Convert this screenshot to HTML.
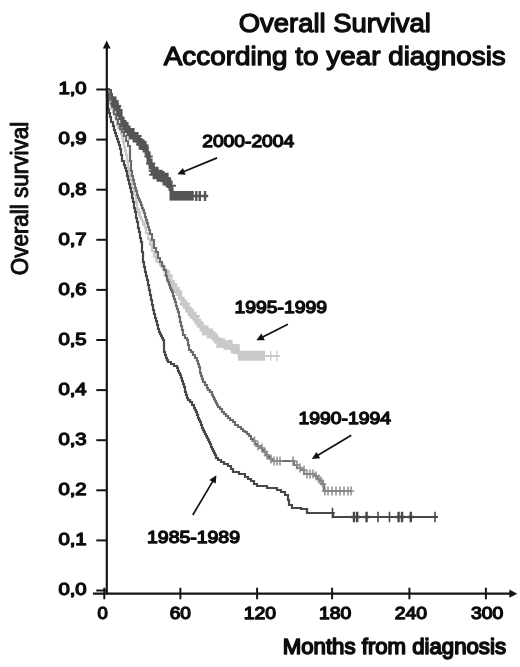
<!DOCTYPE html>
<html><head><meta charset="utf-8"><title>Overall Survival According to year diagnosis</title>
<style>html,body{margin:0;padding:0;background:#fff}svg{display:block;filter:blur(0.3px)}</style></head>
<body>
<svg width="520" height="667" viewBox="0 0 520 667">
<rect width="520" height="667" fill="#fff"/>
<g fill="none" stroke-linejoin="miter">
<path d="M107.0 89.0 L108.0 89.0 L108.0 92.0 L108.0 92.0 L109.0 92.0 L109.0 100.0 L109.0 100.0 L110.0 100.0 L110.0 103.0 L111.0 103.0 L111.0 106.0 L112.0 106.0 L112.0 109.0 L112.0 109.0 L113.0 109.0 L113.0 112.0 L114.0 112.0 L114.0 115.0 L115.0 115.0 L116.0 115.0 L116.0 120.0 L117.0 120.0 L117.0 125.0 L118.0 125.0 L118.0 125.0 L118.0 128.0 L120.0 128.0 L120.0 130.0 L121.0 130.0 L121.0 130.0 L121.0 134.0 L122.0 134.0 L122.0 138.0 L123.0 138.0 L123.0 142.0 L124.0 142.0 L124.0 142.0 L124.0 147.0 L125.0 147.0 L125.0 151.0 L126.0 151.0 L126.0 155.0 L127.0 155.0 L127.0 155.0 L127.0 161.0 L128.0 161.0 L128.0 168.0 L129.0 168.0 L129.0 168.0 L129.0 174.0 L130.0 174.0 L130.0 180.0 L131.0 180.0 L132.0 180.0 L132.0 184.0 L132.0 184.0 L132.0 188.0 L134.0 188.0 L134.0 191.0 L134.0 191.0 L134.0 195.0 L135.0 195.0 L136.0 195.0 L136.0 202.0 L137.0 202.0 L137.0 210.0 L138.0 210.0 L138.0 210.0 L138.0 212.0 L139.0 212.0 L139.0 214.0 L140.0 214.0 L140.0 217.0 L141.0 217.0 L141.0 219.0 L142.0 219.0 L142.0 221.0 L143.0 221.0 L143.0 223.0 L144.0 223.0 L144.0 225.0 L145.0 225.0 L145.0 228.0 L145.0 228.0 L146.0 228.0 L146.0 230.0 L146.0 230.0 L146.0 233.0 L148.0 233.0 L148.0 236.0 L148.0 236.0 L148.0 239.0 L150.0 239.0 L150.0 242.0 L150.0 242.0 L150.0 245.0 L151.0 245.0 L152.0 245.0 L152.0 248.0 L152.0 248.0 L152.0 251.0 L154.0 251.0 L154.0 254.0 L154.0 254.0 L154.0 257.0 L156.0 257.0 L156.0 260.0 L156.0 260.0 L157.0 260.0 L157.0 262.0 L159.0 262.0 L160.0 262.0 L160.0 265.0 L162.0 265.0 L162.0 267.0 L163.0 267.0 L163.0 270.0 L165.0 270.0 L165.0 272.0 L166.0 272.0 L167.0 272.0 L167.0 275.0 L168.0 275.0 L168.0 277.0 L169.0 277.0 L169.0 279.0 L170.0 279.0 L170.0 281.0 L171.0 281.0 L171.0 283.0 L172.0 283.0 L172.0 285.0 L172.0 285.0 L174.0 285.0 L174.0 288.0 L176.0 288.0 L176.0 291.0 L178.0 291.0 L178.0 294.0 L180.0 294.0 L180.0 298.0 L181.0 298.0 L182.0 298.0 L182.0 301.0 L185.0 301.0 L185.0 305.0 L187.0 305.0 L187.0 309.0 L189.0 309.0 L189.0 312.0 L190.0 312.0 L191.0 312.0 L191.0 315.0 L193.0 315.0 L193.0 318.0 L195.0 318.0 L195.0 320.0 L197.0 320.0 L197.0 322.0 L199.0 322.0 L199.0 325.0 L200.0 325.0 L201.0 325.0 L201.0 327.0 L204.0 327.0 L204.0 329.0 L206.0 329.0 L206.0 331.0 L209.0 331.0 L209.0 332.0 L210.0 332.0 L211.0 332.0 L211.0 334.0 L213.0 334.0 L213.0 336.0 L215.0 336.0 L215.0 338.0 L217.0 338.0 L217.0 340.0 L219.0 340.0 L219.0 342.0 L220.0 342.0 L222.0 342.0 L222.0 344.0 L228.0 344.0 L228.0 346.0 L230.0 346.0 L232.0 346.0 L232.0 348.0 L237.0 348.0 L237.0 351.0 L239.0 351.0 L239.0 351.0 L239.0 356.0 L240.0 356.0 L280.0 356.0" stroke="#c9c9c9" stroke-width="2.2"/>
<path d="M166.0 272.0 L167.0 272.0 L167.0 275.0 L168.0 275.0 L168.0 277.0 L169.0 277.0 L169.0 279.0 L170.0 279.0 L170.0 281.0 L171.0 281.0 L171.0 283.0 L172.0 283.0 L172.0 285.0 L172.0 285.0 L174.0 285.0 L174.0 289.0 L177.0 289.0 L177.0 293.0 L180.0 293.0 L180.0 298.0 L181.0 298.0 L183.0 298.0 L183.0 302.0 L186.0 302.0 L186.0 308.0 L189.0 308.0 L189.0 312.0 L190.0 312.0 L192.0 312.0 L192.0 317.0 L195.0 317.0 L195.0 321.0 L198.0 321.0 L198.0 325.0 L200.0 325.0 L202.0 325.0 L202.0 329.0 L208.0 329.0 L208.0 332.0 L210.0 332.0 L212.0 332.0 L212.0 336.0 L215.0 336.0 L215.0 339.0 L218.0 339.0 L218.0 342.0 L220.0 342.0 L225.0 342.0 L225.0 346.0 L230.0 346.0 L232.0 346.0 L232.0 348.0 L237.0 348.0 L237.0 351.0 L239.0 351.0 L239.0 351.0 L239.0 356.0 L240.0 356.0" stroke="#c9c9c9" stroke-width="3" stroke-linejoin="round"/>
<path d="M238 355.7H265" stroke="#c9c9c9" stroke-width="10"/>
<path d="M165.9 270.0h4.2v9.6h-4.2zM163.1 274.2h9.8v2.0h-9.8zM168.3 276.5h4.2v8.7h-4.2zM170.7 279.9h4.2v9.1h-4.2zM173.1 282.9h4.2v10.0h-4.2zM175.5 287.0h4.2v8.9h-4.2zM177.9 290.2h4.2v9.5h-4.2zM180.3 296.7h4.2v8.8h-4.2zM182.7 299.6h4.2v9.2h-4.2zM179.5 303.1h10.6v2.0h-10.6zM185.1 302.5h4.2v10.1h-4.2zM187.5 306.4h4.2v9.3h-4.2zM189.9 308.4h4.2v10.2h-4.2zM192.3 311.7h4.2v8.9h-4.2zM189.0 315.0h10.9v2.0h-10.9zM194.7 315.6h4.2v9.2h-4.2zM197.1 318.4h4.2v9.3h-4.2zM199.5 321.5h4.2v10.1h-4.2zM201.9 325.3h4.2v10.1h-4.2zM204.3 325.4h4.2v9.0h-4.2zM206.7 328.5h4.2v10.1h-4.2zM209.1 328.6h4.2v9.0h-4.2zM211.5 331.5h4.2v9.2h-4.2zM208.3 336.6h10.6v2.0h-10.6zM213.9 333.6h4.2v10.0h-4.2zM211.8 336.9h8.5v2.0h-8.5zM216.3 337.8h4.2v10.1h-4.2zM213.5 340.5h9.8v2.0h-9.8zM218.7 338.1h4.2v9.2h-4.2zM221.1 338.4h4.2v9.5h-4.2zM223.5 340.9h4.2v8.8h-4.2zM225.9 340.3h4.2v9.0h-4.2zM223.1 342.8h9.8v2.0h-9.8zM228.3 339.8h4.2v10.1h-4.2zM225.0 345.1h10.9v2.0h-10.9zM230.7 343.9h4.2v9.4h-4.2zM233.1 344.2h4.2v9.7h-4.2zM235.5 343.9h4.2v10.2h-4.2z" fill="#c9c9c9" stroke="none"/>
<path d="M139.0 208.0V216.0M136.0 212.0H142.0M145.0 221.0V229.0M142.0 225.0H148.0M152.0 241.0V249.0M149.0 245.0H155.0M156.0 253.0V261.0M153.0 257.0H159.0M160.0 258.0V266.0M157.0 262.0H163.0M163.0 263.0V271.0M160.0 267.0H166.0M166.0 268.0V276.0M163.0 272.0H169.0" stroke="#c9c9c9" stroke-width="1.5"/>
<path d="M270.7 351.0V361.0M267.7 356.0H273.7M277.0 351.0V361.0M274.0 356.0H280.0" stroke="#c9c9c9" stroke-width="1.3"/>
<path d="M107.0 89.0 L108.0 89.0 L108.0 91.0 L108.0 91.0 L108.0 93.0 L109.0 93.0 L110.0 93.0 L110.0 97.0 L110.0 97.0 L110.0 100.0 L112.0 100.0 L112.0 104.0 L112.0 104.0 L112.0 104.0 L112.0 107.0 L114.0 107.0 L114.0 110.0 L114.0 110.0 L114.0 114.0 L116.0 114.0 L116.0 117.0 L116.0 117.0 L116.0 117.0 L116.0 119.0 L118.0 119.0 L118.0 122.0 L118.0 122.0 L118.0 124.0 L120.0 124.0 L120.0 127.0 L120.0 127.0 L120.0 129.0 L121.0 129.0 L122.0 129.0 L122.0 132.0 L124.0 132.0 L124.0 136.0 L125.0 136.0 L126.0 136.0 L126.0 139.0 L126.0 139.0 L126.0 141.0 L128.0 141.0 L128.0 144.0 L128.0 144.0 L128.0 146.0 L130.0 146.0 L130.0 149.0 L130.0 149.0 L130.0 149.0 L130.0 161.0 L131.0 161.0 L131.0 161.0 L131.0 171.0 L132.0 171.0 L132.0 171.0 L132.0 176.0 L133.0 176.0 L133.0 180.0 L134.0 180.0 L134.0 180.0 L134.0 184.0 L135.0 184.0 L135.0 188.0 L136.0 188.0 L136.0 191.0 L137.0 191.0 L137.0 195.0 L138.0 195.0 L138.0 195.0 L138.0 198.0 L139.0 198.0 L139.0 200.0 L140.0 200.0 L140.0 202.0 L141.0 202.0 L141.0 205.0 L142.0 205.0 L142.0 208.0 L143.0 208.0 L143.0 210.0 L144.0 210.0 L144.0 210.0 L144.0 213.0 L145.0 213.0 L145.0 217.0 L146.0 217.0 L146.0 220.0 L147.0 220.0 L147.0 223.0 L148.0 223.0 L148.0 227.0 L149.0 227.0 L149.0 230.0 L150.0 230.0 L150.0 230.0 L150.0 234.0 L152.0 234.0 L152.0 237.0 L152.0 237.0 L152.0 240.0 L154.0 240.0 L154.0 244.0 L154.0 244.0 L154.0 248.0 L155.0 248.0 L156.0 248.0 L156.0 250.0 L156.0 250.0 L156.0 252.0 L158.0 252.0 L158.0 255.0 L158.0 255.0 L158.0 258.0 L160.0 258.0 L160.0 260.0 L160.0 260.0 L160.0 260.0 L160.0 262.0 L162.0 262.0 L162.0 264.0 L162.0 264.0 L162.0 266.0 L164.0 266.0 L164.0 268.0 L164.0 268.0 L164.0 270.0 L166.0 270.0 L166.0 272.0 L166.0 272.0 L166.0 272.0 L166.0 276.0 L167.0 276.0 L167.0 280.0 L168.0 280.0 L168.0 280.0 L168.0 282.0 L169.0 282.0 L169.0 285.0 L170.0 285.0 L170.0 288.0 L171.0 288.0 L171.0 290.0 L172.0 290.0 L172.0 292.0 L172.0 292.0 L173.0 292.0 L173.0 296.0 L174.0 296.0 L174.0 299.0 L175.0 299.0 L175.0 302.0 L176.0 302.0 L176.0 306.0 L177.0 306.0 L177.0 309.0 L178.0 309.0 L178.0 312.0 L179.0 312.0 L179.0 312.0 L179.0 317.0 L180.0 317.0 L180.0 322.0 L181.0 322.0 L181.0 326.0 L182.0 326.0 L182.0 330.0 L183.0 330.0 L183.0 335.0 L184.0 335.0 L185.0 335.0 L185.0 338.0 L187.0 338.0 L187.0 340.0 L188.0 340.0 L188.0 340.0 L188.0 345.0 L189.0 345.0 L189.0 350.0 L190.0 350.0 L191.0 350.0 L191.0 352.0 L193.0 352.0 L193.0 355.0 L195.0 355.0 L195.0 358.0 L196.0 358.0 L197.0 358.0 L197.0 361.0 L198.0 361.0 L198.0 364.0 L199.0 364.0 L199.0 367.0 L200.0 367.0 L200.0 370.0 L200.0 370.0 L200.0 370.0 L200.0 373.0 L201.0 373.0 L201.0 376.0 L202.0 376.0 L202.0 379.0 L203.0 379.0 L203.0 382.0 L204.0 382.0 L205.0 382.0 L205.0 385.0 L207.0 385.0 L207.0 388.0 L208.0 388.0 L208.0 390.0 L210.0 390.0 L210.0 392.0 L211.0 392.0 L212.0 392.0 L212.0 395.0 L213.0 395.0 L213.0 397.0 L214.0 397.0 L214.0 399.0 L215.0 399.0 L215.0 401.0 L216.0 401.0 L216.0 403.0 L217.0 403.0 L217.0 405.0 L218.0 405.0 L218.0 405.0 L218.0 407.0 L220.0 407.0 L220.0 409.0 L222.0 409.0 L222.0 412.0 L224.0 412.0 L224.0 414.0 L225.0 414.0 L226.0 414.0 L226.0 416.0 L228.0 416.0 L228.0 418.0 L230.0 418.0 L230.0 420.0 L233.0 420.0 L233.0 422.0 L234.0 422.0 L235.0 422.0 L235.0 425.0 L238.0 425.0 L238.0 427.0 L241.0 427.0 L241.0 429.0 L242.0 429.0 L243.0 429.0 L243.0 431.0 L245.0 431.0 L245.0 432.0 L247.0 432.0 L247.0 434.0 L249.0 434.0 L249.0 436.0 L250.0 436.0 L251.0 436.0 L251.0 439.0 L253.0 439.0 L253.0 441.0 L255.0 441.0 L255.0 444.0 L256.0 444.0 L257.0 444.0 L257.0 446.0 L260.0 446.0 L260.0 448.0 L262.0 448.0 L262.0 450.0 L264.0 450.0 L264.0 452.0 L265.0 452.0 L266.0 452.0 L266.0 455.0 L268.0 455.0 L268.0 457.0 L270.0 457.0 L270.0 459.0 L272.0 459.0 L272.0 461.0 L272.0 461.0 L292.0 461.0 L294.0 461.0 L294.0 465.0 L295.0 465.0 L297.0 465.0 L297.0 468.0 L301.0 468.0 L301.0 470.0 L302.0 470.0 L304.0 470.0 L304.0 474.0 L305.0 474.0 L310.0 474.0 L310.0 474.0 L314.0 474.0 L315.0 474.0 L315.0 476.0 L317.0 476.0 L317.0 479.0 L318.0 479.0 L319.0 479.0 L319.0 481.0 L322.0 481.0 L322.0 484.0 L324.0 484.0 L324.0 484.0 L324.0 491.0 L325.0 491.0 L352.0 491.0" stroke="#6c6c6c" stroke-width="2.2"/>
<path d="M254.5 436.5V445.5M251.2 441.0H257.8M258.0 441.5V450.5M254.8 446.0H261.2M262.0 443.5V452.5M258.8 448.0H265.2M265.0 447.5V456.5M261.8 452.0H268.2M267.0 450.5V459.5M263.8 455.0H270.2M271.0 454.5V463.5M267.8 459.0H274.2M274.0 456.5V465.5M270.8 461.0H277.2M277.0 456.5V465.5M273.8 461.0H280.2M280.0 456.5V465.5M276.8 461.0H283.2M293.0 456.5V465.5M289.8 461.0H296.2M297.0 460.5V469.5M293.8 465.0H300.2M300.0 463.5V472.5M296.8 468.0H303.2M304.0 465.5V474.5M300.8 470.0H307.2M307.0 469.5V478.5M303.8 474.0H310.2M310.0 469.5V478.5M306.8 474.0H313.2M313.0 469.5V478.5M309.8 474.0H316.2M316.0 471.5V480.5M312.8 476.0H319.2M319.0 474.5V483.5M315.8 479.0H322.2M321.0 476.5V485.5M317.8 481.0H324.2M323.0 479.5V488.5M319.8 484.0H326.2M325.0 486.5V495.5M321.8 491.0H328.2M328.0 486.5V495.5M324.8 491.0H331.2M332.0 486.5V495.5M328.8 491.0H335.2M336.0 486.5V495.5M332.8 491.0H339.2M340.0 486.5V495.5M336.8 491.0H343.2M344.0 486.5V495.5M340.8 491.0H347.2M348.0 486.5V495.5M344.8 491.0H351.2M351.0 486.5V495.5M347.8 491.0H354.2" stroke="#8c8c8c" stroke-width="1.5"/>
<path d="M107.0 89.0 L107.0 89.0 L107.0 95.0 L108.0 95.0 L108.0 95.0 L108.0 109.0 L109.0 109.0 L109.0 109.0 L109.0 113.0 L110.0 113.0 L110.0 117.0 L111.0 117.0 L111.0 122.0 L112.0 122.0 L113.0 122.0 L113.0 126.0 L114.0 126.0 L114.0 130.0 L114.0 130.0 L115.0 130.0 L115.0 133.0 L116.0 133.0 L116.0 136.0 L117.0 136.0 L117.0 139.0 L118.0 139.0 L118.0 139.0 L118.0 142.0 L119.0 142.0 L119.0 145.0 L120.0 145.0 L120.0 149.0 L121.0 149.0 L121.0 149.0 L121.0 155.0 L122.0 155.0 L122.0 161.0 L123.0 161.0 L124.0 161.0 L124.0 165.0 L125.0 165.0 L125.0 168.0 L126.0 168.0 L126.0 171.0 L126.0 171.0 L127.0 171.0 L127.0 176.0 L128.0 176.0 L128.0 180.0 L128.0 180.0 L129.0 180.0 L129.0 184.0 L130.0 184.0 L130.0 188.0 L131.0 188.0 L131.0 192.0 L131.0 192.0 L132.0 192.0 L132.0 198.0 L133.0 198.0 L133.0 202.0 L134.0 202.0 L134.0 208.0 L135.0 208.0 L135.0 212.0 L136.0 212.0 L136.0 218.0 L136.0 218.0 L137.0 218.0 L137.0 222.0 L138.0 222.0 L138.0 228.0 L139.0 228.0 L139.0 232.0 L140.0 232.0 L140.0 238.0 L141.0 238.0 L141.0 242.0 L141.0 242.0 L142.0 242.0 L142.0 252.0 L143.0 252.0 L143.0 262.0 L144.0 262.0 L144.0 262.0 L144.0 267.0 L145.0 267.0 L145.0 272.0 L146.0 272.0 L146.0 276.0 L147.0 276.0 L147.0 280.0 L148.0 280.0 L148.0 285.0 L149.0 285.0 L149.0 285.0 L149.0 290.0 L150.0 290.0 L150.0 295.0 L151.0 295.0 L151.0 300.0 L152.0 300.0 L152.0 305.0 L153.0 305.0 L153.0 310.0 L154.0 310.0 L154.0 310.0 L154.0 314.0 L155.0 314.0 L155.0 318.0 L156.0 318.0 L156.0 321.0 L157.0 321.0 L157.0 325.0 L158.0 325.0 L158.0 329.0 L159.0 329.0 L159.0 332.0 L160.0 332.0 L160.0 332.0 L160.0 334.0 L161.0 334.0 L161.0 336.0 L162.0 336.0 L162.0 338.0 L163.0 338.0 L163.0 340.0 L164.0 340.0 L164.0 340.0 L164.0 352.0 L165.0 352.0 L165.0 352.0 L165.0 355.0 L166.0 355.0 L166.0 358.0 L167.0 358.0 L167.0 360.0 L168.0 360.0 L168.0 362.0 L169.0 362.0 L171.0 362.0 L171.0 364.0 L174.0 364.0 L174.0 366.0 L176.0 366.0 L177.0 366.0 L177.0 368.0 L178.0 368.0 L178.0 371.0 L179.0 371.0 L179.0 373.0 L180.0 373.0 L180.0 375.0 L181.0 375.0 L181.0 378.0 L181.0 378.0 L182.0 378.0 L182.0 381.0 L183.0 381.0 L183.0 384.0 L184.0 384.0 L184.0 387.0 L185.0 387.0 L185.0 390.0 L185.0 390.0 L185.0 390.0 L185.0 392.0 L186.0 392.0 L186.0 395.0 L187.0 395.0 L187.0 398.0 L188.0 398.0 L188.0 400.0 L189.0 400.0 L190.0 400.0 L190.0 402.0 L192.0 402.0 L192.0 405.0 L194.0 405.0 L194.0 405.0 L194.0 408.0 L195.0 408.0 L195.0 410.0 L196.0 410.0 L196.0 412.0 L197.0 412.0 L197.0 415.0 L198.0 415.0 L198.0 418.0 L199.0 418.0 L199.0 418.0 L199.0 420.0 L200.0 420.0 L200.0 422.0 L201.0 422.0 L201.0 425.0 L202.0 425.0 L202.0 428.0 L202.0 428.0 L203.0 428.0 L203.0 430.0 L204.0 430.0 L204.0 432.0 L205.0 432.0 L205.0 434.0 L206.0 434.0 L206.0 436.0 L207.0 436.0 L207.0 438.0 L208.0 438.0 L208.0 440.0 L209.0 440.0 L209.0 440.0 L209.0 442.0 L210.0 442.0 L210.0 444.0 L211.0 444.0 L211.0 447.0 L212.0 447.0 L212.0 449.0 L213.0 449.0 L213.0 451.0 L214.0 451.0 L214.0 453.0 L215.0 453.0 L215.0 455.0 L216.0 455.0 L216.0 458.0 L216.0 458.0 L218.0 458.0 L218.0 460.0 L221.0 460.0 L221.0 462.0 L222.0 462.0 L224.0 462.0 L224.0 464.0 L228.0 464.0 L228.0 466.0 L230.0 466.0 L231.0 466.0 L231.0 469.0 L233.0 469.0 L233.0 472.0 L234.0 472.0 L239.0 472.0 L239.0 474.0 L244.0 474.0 L245.0 474.0 L245.0 477.0 L248.0 477.0 L248.0 479.0 L251.0 479.0 L251.0 481.0 L252.0 481.0 L254.0 481.0 L254.0 484.0 L257.0 484.0 L257.0 486.0 L259.0 486.0 L267.0 486.0 L267.0 488.0 L275.0 488.0 L277.0 488.0 L277.0 490.0 L281.0 490.0 L281.0 492.0 L282.0 492.0 L285.0 492.0 L285.0 495.0 L288.0 495.0 L288.0 495.0 L288.0 500.0 L289.0 500.0 L289.0 505.0 L290.0 505.0 L292.0 505.0 L292.0 508.0 L295.0 508.0 L301.0 508.0 L301.0 509.0 L306.0 509.0 L307.0 509.0 L307.0 513.0 L308.0 513.0 L332.0 513.0 L333.0 513.0 L333.0 517.0 L334.0 517.0 L438.0 517.0" stroke="#474747" stroke-width="2.2"/>
<path d="M332.5 507.8V518.2M330.0 513.0H335.0M378.0 511.8V522.2M375.5 517.0H380.5M389.5 511.8V522.2M387.0 517.0H392.0M435.0 511.8V522.2M432.5 517.0H437.5" stroke="#474747" stroke-width="1.6"/>
<path d="M354.0 511.8V522.2M351.0 517.0H357.0M357.2 511.8V522.2M354.2 517.0H360.2M366.6 511.8V522.2M363.6 517.0H369.6M398.6 511.8V522.2M395.6 517.0H401.6M402.0 511.8V522.2M399.0 517.0H405.0M410.8 511.8V522.2M407.8 517.0H413.8" stroke="#474747" stroke-width="2.4"/>
<path d="M107.0 89.0 L109.0 89.0 L109.0 90.0 L111.0 90.0 L111.0 90.0 L111.0 94.0 L112.0 94.0 L112.0 98.0 L112.0 98.0 L113.0 98.0 L113.0 101.0 L115.0 101.0 L115.0 104.0 L116.0 104.0 L117.0 104.0 L117.0 108.0 L118.0 108.0 L118.0 113.0 L119.0 113.0 L119.0 113.0 L119.0 115.0 L120.0 115.0 L120.0 117.0 L121.0 117.0 L121.0 119.0 L122.0 119.0 L122.0 122.0 L123.0 122.0 L124.0 122.0 L124.0 124.0 L126.0 124.0 L126.0 127.0 L128.0 127.0 L128.0 130.0 L129.0 130.0 L130.0 130.0 L130.0 133.0 L131.0 133.0 L132.0 133.0 L132.0 135.0 L134.0 135.0 L134.0 137.0 L136.0 137.0 L136.0 139.0 L138.0 139.0 L138.0 141.0 L138.0 141.0 L139.0 141.0 L139.0 143.0 L141.0 143.0 L141.0 144.0 L143.0 144.0 L143.0 146.0 L145.0 146.0 L145.0 148.0 L146.0 148.0 L147.0 148.0 L147.0 153.0 L148.0 153.0 L148.0 158.0 L149.0 158.0 L149.0 158.0 L149.0 162.0 L150.0 162.0 L150.0 165.0 L151.0 165.0 L152.0 165.0 L152.0 169.0 L154.0 169.0 L154.0 172.0 L155.0 172.0 L156.0 172.0 L156.0 175.0 L160.0 175.0 L160.0 177.0 L162.0 177.0 L163.0 177.0 L163.0 179.0 L166.0 179.0 L166.0 181.0 L168.0 181.0 L169.0 181.0 L169.0 184.0 L170.0 184.0 L170.0 188.0 L171.0 188.0 L172.0 188.0 L172.0 193.0 L172.0 193.0 L172.0 193.0 L172.0 196.0 L172.0 196.0 L208.0 196.0" stroke="#555555" stroke-width="2.0"/>
<path d="M112.0 98.0 L114.0 98.0 L114.0 104.0 L116.0 104.0 L117.0 104.0 L117.0 108.0 L118.0 108.0 L118.0 113.0 L119.0 113.0 L119.0 113.0 L119.0 115.0 L120.0 115.0 L120.0 117.0 L121.0 117.0 L121.0 119.0 L122.0 119.0 L122.0 122.0 L123.0 122.0 L124.0 122.0 L124.0 126.0 L127.0 126.0 L127.0 130.0 L129.0 130.0 L130.0 130.0 L130.0 133.0 L131.0 133.0 L132.0 133.0 L132.0 136.0 L135.0 136.0 L135.0 138.0 L137.0 138.0 L137.0 141.0 L138.0 141.0 L140.0 141.0 L140.0 144.0 L144.0 144.0 L144.0 148.0 L146.0 148.0 L147.0 148.0 L147.0 153.0 L148.0 153.0 L148.0 158.0 L149.0 158.0 L149.0 158.0 L149.0 162.0 L150.0 162.0 L150.0 165.0 L151.0 165.0 L153.0 165.0 L153.0 172.0 L155.0 172.0 L158.0 172.0 L158.0 177.0 L162.0 177.0 L165.0 177.0 L165.0 181.0 L168.0 181.0 L170.0 181.0 L170.0 188.0 L171.0 188.0 L172.0 188.0 L172.0 193.0 L172.0 193.0 L172.0 193.0 L172.0 196.0 L172.0 196.0" stroke="#555555" stroke-width="3.2" stroke-linejoin="round"/>
<path d="M112.6 96.6h4.0v11.4h-4.0zM110.1 102.7h8.9v2.0h-8.9zM114.6 100.1h4.0v11.1h-4.0zM112.0 104.9h9.2v2.0h-9.2zM116.6 105.6h4.0v11.2h-4.0zM118.6 108.9h4.0v11.2h-4.0zM120.6 116.5h4.0v10.8h-4.0zM122.6 120.1h4.0v10.2h-4.0zM119.6 125.6h10.0v2.0h-10.0zM124.6 122.1h4.0v10.9h-4.0zM126.6 125.5h4.0v10.8h-4.0zM124.0 130.2h9.1v2.0h-9.1zM128.6 128.7h4.0v10.8h-4.0zM130.6 128.1h4.0v11.1h-4.0zM132.6 132.0h4.0v10.6h-4.0zM134.6 131.9h4.0v10.5h-4.0zM131.6 135.0h10.1v2.0h-10.1zM136.6 135.1h4.0v10.7h-4.0zM138.6 138.1h4.0v11.6h-4.0zM136.1 143.4h9.0v2.0h-9.0zM140.6 139.2h4.0v10.9h-4.0zM138.4 143.7h8.4v2.0h-8.4zM142.6 141.0h4.0v11.5h-4.0zM144.6 144.6h4.0v10.6h-4.0zM146.6 151.3h4.0v11.5h-4.0zM144.4 155.4h8.4v2.0h-8.4zM148.6 158.4h4.0v10.6h-4.0zM146.0 162.4h9.3v2.0h-9.3zM150.6 163.6h4.0v11.7h-4.0zM148.6 169.8h8.0v2.0h-8.0zM152.6 167.5h4.0v11.8h-4.0zM149.2 173.7h10.9v2.0h-10.9zM154.6 166.7h4.0v11.4h-4.0zM156.6 170.7h4.0v11.0h-4.0zM154.1 174.4h9.0v2.0h-9.0zM158.6 169.7h4.0v11.1h-4.0zM155.4 172.9h10.4v2.0h-10.4zM160.6 171.0h4.0v11.3h-4.0zM162.6 174.0h4.0v11.6h-4.0zM164.6 172.7h4.0v11.4h-4.0zM162.2 177.9h8.9v2.0h-8.9zM166.6 177.0h4.0v10.9h-4.0zM168.6 180.4h4.0v10.7h-4.0zM165.3 184.7h10.6v2.0h-10.6z" fill="#555555" stroke="none"/>
<path d="M169.5 195.8H193.8" stroke="#555555" stroke-width="9.6"/>
<path d="M196.3 191.0V201.0M193.1 196.0H199.6M199.8 191.0V201.0M196.6 196.0H203.1M205.0 191.0V201.0M201.8 196.0H208.2" stroke="#555555" stroke-width="2.4"/>
</g>
<g stroke="#151515" fill="none">
<path d="M106.8 46V594.5" stroke-width="2.2"/>
<path d="M93 593.6H511" stroke-width="2.2"/>
<path d="M96.3 89.5H107" stroke-width="2.0"/>
<path d="M96.3 139.6H107" stroke-width="2.0"/>
<path d="M96.3 189.7H107" stroke-width="2.0"/>
<path d="M96.3 239.8H107" stroke-width="2.0"/>
<path d="M96.3 289.9H107" stroke-width="2.0"/>
<path d="M96.3 340.0H107" stroke-width="2.0"/>
<path d="M96.3 390.1H107" stroke-width="2.0"/>
<path d="M96.3 440.2H107" stroke-width="2.0"/>
<path d="M96.3 490.3H107" stroke-width="2.0"/>
<path d="M96.3 540.4H107" stroke-width="2.0"/>
<path d="M96.3 590.5H107" stroke-width="2.0"/>
<path d="M104.3 587.7V599.3" stroke-width="2.0"/>
<path d="M180.4 587.7V599.3" stroke-width="2.0"/>
<path d="M257.1 587.7V599.3" stroke-width="2.0"/>
<path d="M332.1 587.7V599.3" stroke-width="2.0"/>
<path d="M409.4 587.7V599.3" stroke-width="2.0"/>
<path d="M485.9 587.7V599.3" stroke-width="2.0"/>
</g>
<path d="M106.7 40.5L110.6 48.5H102.8Z" fill="#151515"/>
<path d="M517.3 593.7L509.3 589.6V597.8Z" fill="#151515"/>
<path d="M217.1 157.9L183.4 171.7" stroke="#111" stroke-width="1.7" fill="none"/><path d="M177.3 174.2L182.9 167.9L185.7 174.7Z" fill="#111"/>
<path d="M287.9 324.3L262.2 337.3" stroke="#111" stroke-width="1.7" fill="none"/><path d="M256.3 340.3L261.4 333.6L264.8 340.2Z" fill="#111"/>
<path d="M351.3 435.2L317.5 455.6" stroke="#111" stroke-width="1.7" fill="none"/><path d="M311.8 459.0L316.4 451.9L320.2 458.2Z" fill="#111"/>
<path d="M192.8 515.0L213.0 480.9" stroke="#111" stroke-width="1.7" fill="none"/><path d="M216.4 475.2L215.7 483.6L209.3 479.9Z" fill="#111"/>
<g font-family="'Liberation Sans', Arial, sans-serif" fill="#0d0d0d" stroke="#0d0d0d" stroke-width="1.1" stroke-linejoin="round">
<text x="238.8" y="31.6" font-size="26.2" text-anchor="start" textLength="192.0" lengthAdjust="spacingAndGlyphs" stroke-width="1.3">Overall Survival</text>
<text x="163.8" y="64.6" font-size="26.2" text-anchor="start" textLength="342.0" lengthAdjust="spacingAndGlyphs" stroke-width="1.3">According to year diagnosis</text>
<text x="86.6" y="94.3" font-size="16.9" text-anchor="end" textLength="28.2" lengthAdjust="spacingAndGlyphs" stroke-width="1.3">1,0</text>
<text x="86.6" y="144.4" font-size="16.9" text-anchor="end" textLength="28.2" lengthAdjust="spacingAndGlyphs" stroke-width="1.3">0,9</text>
<text x="86.6" y="194.5" font-size="16.9" text-anchor="end" textLength="28.2" lengthAdjust="spacingAndGlyphs" stroke-width="1.3">0,8</text>
<text x="86.6" y="244.6" font-size="16.9" text-anchor="end" textLength="28.2" lengthAdjust="spacingAndGlyphs" stroke-width="1.3">0,7</text>
<text x="86.6" y="294.7" font-size="16.9" text-anchor="end" textLength="28.2" lengthAdjust="spacingAndGlyphs" stroke-width="1.3">0,6</text>
<text x="86.6" y="344.8" font-size="16.9" text-anchor="end" textLength="28.2" lengthAdjust="spacingAndGlyphs" stroke-width="1.3">0,5</text>
<text x="86.6" y="394.9" font-size="16.9" text-anchor="end" textLength="28.2" lengthAdjust="spacingAndGlyphs" stroke-width="1.3">0,4</text>
<text x="86.6" y="445.0" font-size="16.9" text-anchor="end" textLength="28.2" lengthAdjust="spacingAndGlyphs" stroke-width="1.3">0,3</text>
<text x="86.6" y="495.1" font-size="16.9" text-anchor="end" textLength="28.2" lengthAdjust="spacingAndGlyphs" stroke-width="1.3">0,2</text>
<text x="86.6" y="545.2" font-size="16.9" text-anchor="end" textLength="28.2" lengthAdjust="spacingAndGlyphs" stroke-width="1.3">0,1</text>
<text x="86.6" y="595.3" font-size="16.9" text-anchor="end" textLength="28.2" lengthAdjust="spacingAndGlyphs" stroke-width="1.3">0,0</text>
<text x="107.8" y="618.9" font-size="16.9" text-anchor="end" textLength="10.3" lengthAdjust="spacingAndGlyphs" stroke-width="1.3">0</text>
<text x="190.9" y="618.9" font-size="16.9" text-anchor="end" textLength="21.2" lengthAdjust="spacingAndGlyphs" stroke-width="1.3">60</text>
<text x="276.1" y="618.9" font-size="16.9" text-anchor="end" textLength="32.3" lengthAdjust="spacingAndGlyphs" stroke-width="1.3">120</text>
<text x="351.4" y="618.9" font-size="16.9" text-anchor="end" textLength="32.3" lengthAdjust="spacingAndGlyphs" stroke-width="1.3">180</text>
<text x="427.1" y="618.9" font-size="16.9" text-anchor="end" textLength="32.3" lengthAdjust="spacingAndGlyphs" stroke-width="1.3">240</text>
<text x="503.4" y="618.9" font-size="16.9" text-anchor="end" textLength="32.3" lengthAdjust="spacingAndGlyphs" stroke-width="1.3">300</text>
<text x="282.8" y="653.9" font-size="22.4" text-anchor="start" textLength="223.2" lengthAdjust="spacingAndGlyphs" stroke-width="1.6">Months from diagnosis</text>
<text x="202.2" y="146.9" font-size="16.9" text-anchor="start" textLength="92.0" lengthAdjust="spacingAndGlyphs" stroke-width="1.3">2000-2004</text>
<text x="234.5" y="312.8" font-size="16.9" text-anchor="start" textLength="92.5" lengthAdjust="spacingAndGlyphs" stroke-width="1.3">1995-1999</text>
<text x="298.5" y="424.0" font-size="16.9" text-anchor="start" textLength="92.5" lengthAdjust="spacingAndGlyphs" stroke-width="1.3">1990-1994</text>
<text x="147.0" y="542.8" font-size="16.9" text-anchor="start" textLength="93.0" lengthAdjust="spacingAndGlyphs" stroke-width="1.3">1985-1989</text>
<text transform="translate(27.8 275.3) rotate(-90) scale(1 1.06)" stroke-width="0.9" font-size="22" textLength="153.5" lengthAdjust="spacingAndGlyphs">Overall survival</text>
</g>
</svg>
</body></html>
